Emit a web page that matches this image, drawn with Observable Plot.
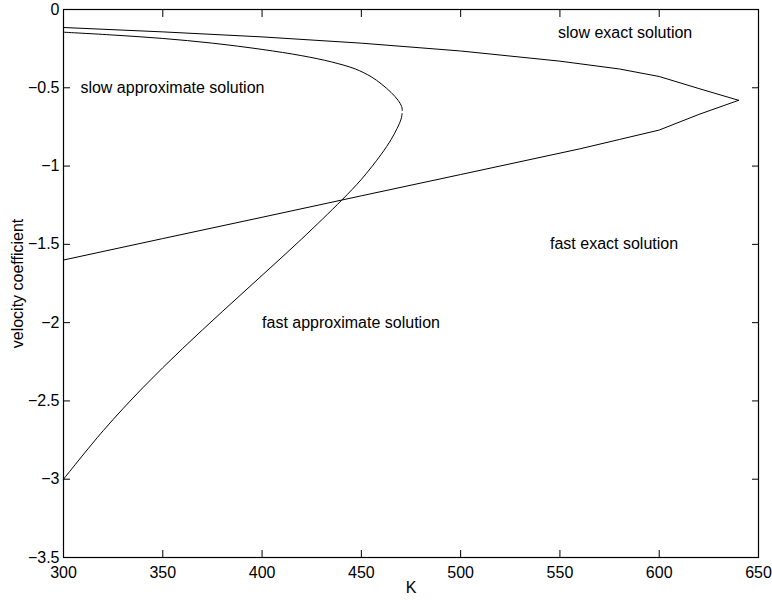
<!DOCTYPE html>
<html>
<head>
<meta charset="utf-8">
<script src="https://cdn.jsdelivr.net/npm/d3@7"></script>
<script src="https://cdn.jsdelivr.net/npm/@observablehq/plot@0.6"></script>
<style>
  html, body { margin: 0; padding: 0; background: #fff; }
</style>
</head>
<body>
<div id="chart"></div>
<script>
// Slow exact solution (upper branch)
const slowExactK = [300, 350, 400, 450, 500, 550, 580, 600, 620, 640];
const slowExactV = [-0.115, -0.143, -0.175, -0.215, -0.265, -0.33, -0.38, -0.428, -0.505, -0.58];
// Fast exact solution (lower branch)
const fastExactK = [640, 620, 600, 580, 560, 500, 450, 400, 350, 300];
const fastExactV = [-0.58, -0.67, -0.77, -0.83, -0.89, -1.054, -1.19, -1.327, -1.463, -1.6];
// Slow approximate solution
const slowApproxK = [300, 325, 350, 375, 400, 420, 435, 447, 455, 460, 465, 468.5, 470.3, 470.6];
const slowApproxV = [-0.145, -0.163, -0.185, -0.215, -0.255, -0.295, -0.335, -0.38, -0.43, -0.475, -0.53, -0.58, -0.62, -0.645];
// Fast approximate solution
const fastApproxK = [470.5, 470, 468, 465, 460, 450, 440, 420, 400, 380, 360, 340, 320, 300];
const fastApproxV = [-0.665, -0.70, -0.76, -0.83, -0.925, -1.085, -1.219, -1.465, -1.698, -1.929, -2.165, -2.415, -2.69, -3.0];

const labelK = [549, 308.5, 545, 400];
const labelV = [-0.15, -0.5, -1.5, -2.0];
const labelText = ["slow exact solution", "slow approximate solution", "fast exact solution", "fast approximate solution"];

const xTicks = [300, 350, 400, 450, 500, 550, 600, 650];
const yTicks = [0, -0.5, -1, -1.5, -2, -2.5, -3, -3.5];

const toRows = (ks, vs) => ks.map((k, i) => ({k, v: vs[i]}));
const exactSeries = [toRows(slowExactK, slowExactV), toRows(fastExactK, fastExactV)];
const approxSeries = [toRows(slowApproxK, slowApproxV), toRows(fastApproxK, fastApproxV)];
const labels = labelText.map((t, i) => ({k: labelK[i], v: labelV[i], t}));
const fmt = d3.format("~g");

const chart = Plot.plot({
  width: 772,
  height: 602,
  marginLeft: 63,
  marginRight: 14,
  marginTop: 9,
  marginBottom: 45,
  style: {fontFamily: "'Liberation Sans', Arial, sans-serif", fontSize: "16px", background: "#fff", color: "#000"},
  x: {domain: [300, 650]},
  y: {domain: [-3.5, 0]},
  marks: [
    ...exactSeries.map(s => Plot.line(s, {x: "k", y: "v", stroke: "#000", strokeWidth: 1, curve: "linear"})),
    ...approxSeries.map(s => Plot.line(s, {x: "k", y: "v", stroke: "#000", strokeWidth: 1, curve: "catmull-rom"})),
    Plot.text(labels, {x: "k", y: "v", text: "t", textAnchor: "start", fill: "#000", fontSize: 16}),
    Plot.axisX({anchor: "bottom", ticks: xTicks, tickSize: -7, tickPadding: 16, tickFormat: fmt, label: null, fontSize: 16}),
    Plot.axisX({anchor: "top", ticks: xTicks, tickSize: -7, tickFormat: () => "", label: null}),
    Plot.axisY({anchor: "left", ticks: yTicks, tickSize: -7, tickPadding: 11, tickFormat: fmt, label: null, fontSize: 16}),
    Plot.axisY({anchor: "right", ticks: yTicks, tickSize: -7, tickFormat: () => "", label: null}),
    Plot.frame({stroke: "#000", strokeWidth: 1.2}),
    Plot.text(["velocity coefficient"], {frameAnchor: "left", textAnchor: "middle", dx: -46, rotate: -90, fill: "#000", fontSize: 16}),
    Plot.text(["K"], {frameAnchor: "bottom", textAnchor: "middle", dy: 35, fill: "#000", fontSize: 16})
  ]
});
document.getElementById("chart").appendChild(chart);
</script>
</body>
</html>
